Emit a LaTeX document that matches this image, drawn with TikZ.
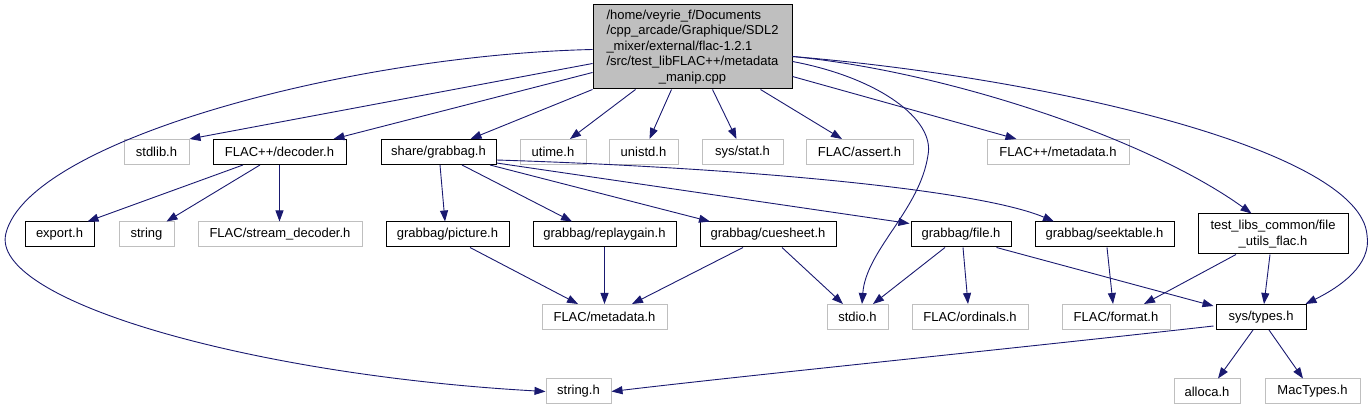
\documentclass[tikz,border=0pt]{standalone}
\usepackage{fontspec}
\setmainfont{Liberation Sans}
\usetikzlibrary{arrows.meta,calc}
\definecolor{edgeblue}{HTML}{191970}
\definecolor{boxgray}{HTML}{BFBFBF}
\begin{document}
\begin{tikzpicture}[x=1pt,y=-1pt,
  base/.style={rectangle,inner sep=0pt,line width=1pt,minimum height=25pt,
    font=\fontsize{13}{15.5}\selectfont},
  hdr/.style={base,draw=black},
  ext/.style={base,draw=boxgray},
  mainbox/.style={base,draw=black,fill=boxgray},
  dep/.style={draw=edgeblue,line width=0.9pt,-{Triangle[length=11pt,width=8pt]},fill=none}]
\useasboundingbox (0,0) rectangle (1371,411);
% main
\node[mainbox,minimum width=199pt,minimum height=84pt] (main) at (692.5,47)
 {\begin{tabular}{@{}l@{}}/home/veyrie\_f/Documents\\/cpp\_arcade/Graphique/SDL2\\\_mixer/external/flac-1.2.1\\/src/test\_libFLAC++/metadata\\\multicolumn{1}{@{}c@{}}{\_manip.cpp}\end{tabular}};
% row 1
\node[ext,minimum width=65pt] (stdlib) at (156.5,152) {stdlib.h};
\node[hdr,minimum width=133pt] (dec) at (279.5,152) {FLAC++/decoder.h};
\node[hdr,minimum width=115pt] (grab) at (438.5,152) {share/grabbag.h};
\node[ext,minimum width=66pt] (utime) at (553,152) {utime.h};
\node[ext,minimum width=69pt] (unistd) at (643.5,152) {unistd.h};
\node[ext,minimum width=81pt] (sysstat) at (742.5,152) {sys/stat.h};
\node[ext,minimum width=107pt] (assert) at (859.5,152) {FLAC/assert.h};
\node[ext,minimum width=142pt] (fmeta) at (1058,152) {FLAC++/metadata.h};
% row 2
\node[hdr,minimum width=69pt] (export) at (59.5,234.5) {export.h};
\node[ext,minimum width=55pt] (string) at (146.5,234.5) {string};
\node[ext,minimum width=164pt] (stream) at (280,234.5) {FLAC/stream\_decoder.h};
\node[hdr,minimum width=123pt] (picture) at (447.5,234.5) {grabbag/picture.h};
\node[hdr,minimum width=143pt] (replay) at (604.5,234.5) {grabbag/replaygain.h};
\node[hdr,minimum width=136pt] (cue) at (768,234.5) {grabbag/cuesheet.h};
\node[hdr,minimum width=100pt] (file) at (961,234.5) {grabbag/file.h};
\node[hdr,minimum width=139pt] (seek) at (1104.5,234.5) {grabbag/seektable.h};
\node[hdr,minimum width=150pt,minimum height=40pt,align=center] (tlc) at (1273,234)
 {test\_libs\_common/file\\\_utils\_flac.h};
% row 3
\node[ext,minimum width=125pt] (meta) at (604.5,317) {FLAC/metadata.h};
\node[ext,minimum width=61pt] (stdio) at (857.5,317) {stdio.h};
\node[ext,minimum width=116pt] (ord) at (970,317) {FLAC/ordinals.h};
\node[ext,minimum width=108pt] (format) at (1116,317) {FLAC/format.h};
\node[hdr,minimum width=90pt] (systypes) at (1261,317) {sys/types.h};
% row 4
\node[ext,minimum width=65pt] (stringh) at (578.5,391.5) {string.h};
\node[ext,minimum width=66pt] (alloca) at (1207,391.5) {alloca.h};
\node[ext,minimum width=95pt] (mac) at (1312.5,391.5) {MacTypes.h};

% edges from main
\draw[dep] ($(main.north west)+(0,45)$) .. controls (350,55) and (30,140) .. (6,233)
  .. controls (-12,300) and (250,375) .. (stringh.west);
\draw[dep] ($(main.north west)+(0,59)$) -- (stdlib.north east);
\draw[dep] ($(main.north west)+(0,68)$) -- ($(dec.north east)+(-13,0)$);
\draw[dep] (main.south west) -- ($(grab.north east)+(-26,0)$);
\draw[dep] ($(main.south west)+(43,0)$) -- ($(utime.north)+(17,0)$);
\draw[dep] ($(main.south west)+(79,0)$) -- ($(unistd.north)+(6,0)$);
\draw[dep] ($(main.south west)+(120,0)$) -- ($(sysstat.north)+(-6,0)$);
\draw[dep] ($(main.south west)+(168,0)$) -- ($(assert.north)+(-17.5,0)$);
\draw[dep] ($(main.north east)+(0,72)$) -- ($(fmeta.north west)+(30,0)$);
\draw[dep] ($(main.north east)+(0,57)$) .. controls (880,78) and (935,120) .. (928,155)
  .. controls (920,210) and (866,250) .. ($(stdio.north)+(4.5,0)$);
\draw[dep] ($(main.north east)+(0,52)$) .. controls (950,72) and (1150,140) .. ($(tlc.north west)+(54,0)$);
\draw[dep] ($(main.north east)+(0,52)$) .. controls (1050,78) and (1360,150) .. (1367,235)
  .. controls (1372,265) and (1340,287) .. ($(systypes.north east)+(-1,0)$);
% decoder
\draw[dep] ($(dec.south)+(-36.5,0)$) -- ($(export.north east)+(-7,0)$);
\draw[dep] ($(dec.south)+(-19.5,0)$) -- ($(string.north east)+(-8,0)$);
\draw[dep] (dec.south) -- (dec.south |- stream.north);
% grabbag
\draw[dep] ($(grab.south)+(1.5,0)$) -- ($(picture.north)+(-2.5,0)$);
\draw[dep] ($(grab.south)+(23.5,0)$) -- ($(replay.north)+(-32.5,0)$);
\draw[dep] ($(grab.south)+(51.5,0)$) -- ($(cue.north)+(-58,0)$);
\draw[dep] ($(grab.south east)+(0,-2)$) -- ($(file.north west)+(-1,2)$);
\draw[dep] ($(grab.south east)+(0,-5)$) .. controls (750,168) and (980,190) .. ($(seek.north)+(-50.5,0)$);
% row 2 -> row 3
\draw[dep] ($(picture.south)+(22.5,0)$) -- ($(meta.north)+(-26.5,0)$);
\draw[dep] (replay.south) -- (meta.north);
\draw[dep] ($(cue.south)+(-25,0)$) -- ($(meta.north)+(27.5,0)$);
\draw[dep] ($(cue.south)+(14,0)$) -- ($(stdio.north)+(-14.5,0)$);
\draw[dep] ($(file.south)+(-16,0)$) -- ($(stdio.north)+(15.5,0)$);
\draw[dep] ($(file.south)+(2,0)$) -- ($(ord.north)+(-2,0)$);
\draw[dep] ($(file.south east)+(-15,0)$) -- ($(systypes.north west)+(-2,2)$);
\draw[dep] ($(seek.south)+(2.5,0)$) -- ($(format.north)+(-3,0)$);
\draw[dep] ($(tlc.south)+(-37,0)$) -- ($(format.north)+(28,0)$);
\draw[dep] ($(tlc.south)+(-3,0)$) -- ($(systypes.north)+(3,0)$);
% sys/types
\draw[dep] ($(systypes.south west)+(-2,-4)$) .. controls (1000,350) and (750,375) .. (stringh.east);
\draw[dep] ($(systypes.south)+(-8,0)$) -- ($(alloca.north)+(11,0)$);
\draw[dep] ($(systypes.south)+(8,0)$) -- ($(mac.north)+(-9.5,0)$);
\end{tikzpicture}
\end{document}
